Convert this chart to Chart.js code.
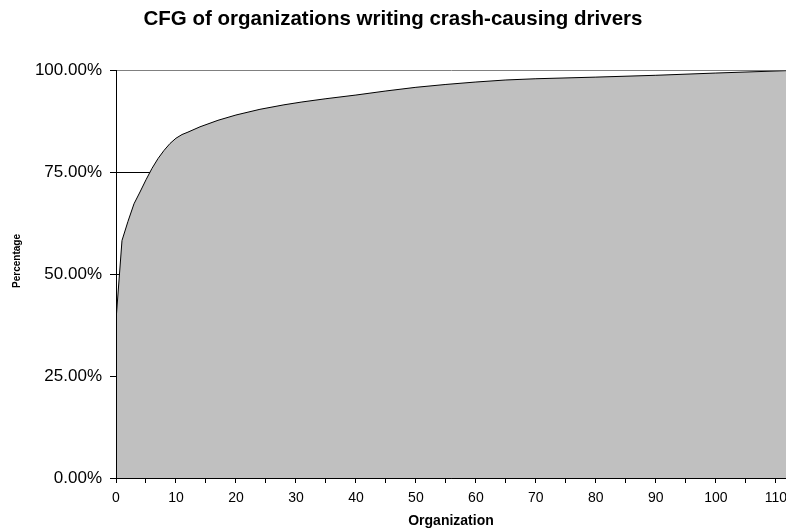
<!DOCTYPE html>
<html>
<head>
<meta charset="utf-8">
<script src="https://cdn.jsdelivr.net/npm/chart.js@4/dist/chart.umd.min.js"></script>
<style>
  html, body { margin: 0; padding: 0; background: #ffffff; }
  #wrap { width: 786px; height: 531px; }
</style>
</head>
<body>
<div id="wrap"><canvas id="c" width="786" height="531"></canvas></div>
<script>
// ---- data ----
const chartTitle = 'CFG of organizations writing crash-causing drivers';
const xAxisTitle = 'Organization';
const yAxisTitle = 'Percentage';
const organizations = [0, 1, 2, 3, 4, 5, 6, 7, 8, 9, 10, 11, 12, 14, 17, 20, 24, 28, 31, 35, 40, 45, 50, 55, 60, 65, 70, 80, 90, 100, 112];
const cumulativePercent = [38.7, 58.3, 63.0, 67.3, 70.2, 73.2, 76.0, 78.4, 80.4, 82.1, 83.4, 84.3, 84.9, 86.2, 87.8, 89.1, 90.5, 91.6, 92.3, 93.1, 94.0, 95.0, 95.9, 96.6, 97.2, 97.7, 98.0, 98.4, 98.85, 99.4, 100.0];
const xTickMarks = [0, 5, 10, 15, 20, 25, 30, 35, 40, 45, 50, 55, 60, 65, 70, 75, 80, 85, 90, 95, 100, 105, 110];
const xTickLabels = [0, 10, 20, 30, 40, 50, 60, 70, 80, 90, 100, 110];
const yTickValues = [0, 25, 50, 75, 100];

const points = organizations.map((x, i) => ({ x: x, y: cumulativePercent[i] }));

const yTitlePlugin = {
  id: 'yTitle',
  afterDraw(chart) {
    const ctx = chart.ctx;
    ctx.save();
    ctx.translate(17.5, 261);
    ctx.rotate(-Math.PI / 2);
    ctx.font = 'bold 10px "Liberation Sans", Arial, sans-serif';
    ctx.fillStyle = '#000';
    ctx.textAlign = 'center';
    ctx.textBaseline = 'middle';
    ctx.fillText(yAxisTitle, 0, 0);
    ctx.restore();
  }
};

new Chart(document.getElementById('c'), {
  type: 'line',
  data: {
    datasets: [{
      data: points,
      borderColor: '#000000',
      borderWidth: 1,
      backgroundColor: '#C0C0C0',
      fill: 'origin',
      pointRadius: 0,
      tension: 0
    }]
  },
  options: {
    responsive: false,
    animation: false,
    devicePixelRatio: 1,
    layout: { padding: 0 },
    plugins: {
      legend: { display: false },
      tooltip: { enabled: false },
      title: {
        display: true,
        text: chartTitle,
        color: '#000',
        font: { family: '"Liberation Sans", Arial, sans-serif', size: 20.5, weight: 'bold' },
        padding: { top: 7, bottom: 39 }
      }
    },
    scales: {
      x: {
        type: 'linear',
        min: 0,
        max: 111.7,
        afterBuildTicks(scale) {
          scale.ticks = xTickMarks.map(v => ({ value: v }));
        },
        afterFit(scale) {
          scale.height = 53;
          scale.paddingRight = 0;
        },
        ticks: {
          autoSkip: false,
          maxRotation: 0,
          padding: 7,
          color: '#000',
          font: { family: '"Liberation Sans", Arial, sans-serif', size: 14 },
          callback: (v) => xTickLabels.includes(v) ? String(v) : ''
        },
        grid: {
          display: true,
          drawOnChartArea: false,
          drawTicks: true,
          tickLength: 5,
          color: '#000',
          tickColor: '#000'
        },
        border: { display: true, color: '#000', width: 1, z: 1 },
        title: {
          display: true,
          text: xAxisTitle,
          color: '#000',
          font: { family: '"Liberation Sans", Arial, sans-serif', size: 14, weight: 'bold' },
          padding: { top: 0, bottom: 1 }
        }
      },
      y: {
        min: 0,
        max: 100,
        afterBuildTicks(scale) {
          scale.ticks = yTickValues.map(v => ({ value: v }));
        },
        afterFit(scale) {
          scale.width = 116;
        },
        ticks: {
          padding: 8,
          color: '#000',
          font: { family: '"Liberation Sans", Arial, sans-serif', size: 17 },
          callback: (v) => v.toFixed(2) + '%'
        },
        grid: {
          display: true,
          drawTicks: true,
          tickLength: 6,
          color: (ctx) => (ctx.tick && ctx.tick.value === 100) ? '#808080' : '#000',
          tickColor: '#000'
        },
        border: { display: true, color: '#000', width: 1, z: 1 },
        title: { display: false }
      }
    }
  },
  plugins: [yTitlePlugin]
});
</script>
</body>
</html>
